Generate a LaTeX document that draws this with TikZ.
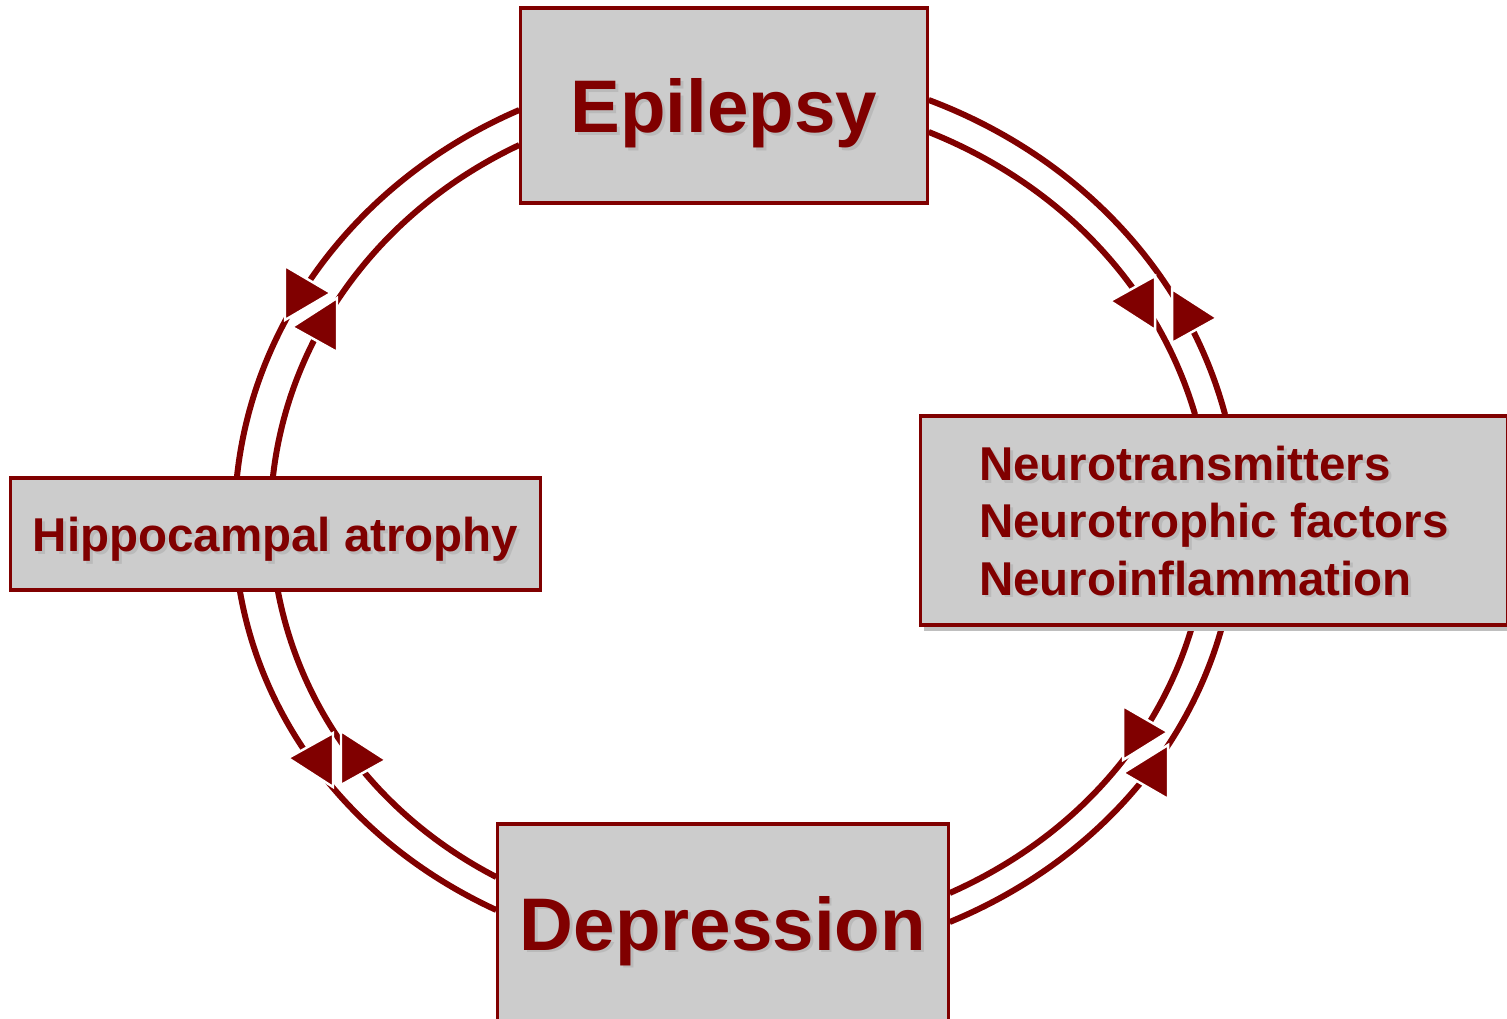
\documentclass[tikz,border=0pt]{standalone}
\usepackage{fontspec}
\setmainfont{Liberation Sans}
\usetikzlibrary{calc,backgrounds,shadows}
\definecolor{maroon}{HTML}{800000}
\definecolor{boxgrey}{HTML}{CCCCCC}
\definecolor{textshade}{HTML}{BABABA}
\newcommand{\shtext}[1]{\rlap{\textcolor{textshade}{\kern0.8pt\raisebox{-0.8pt}{#1}}}#1}
\tikzset{
  boxnode/.style={draw=maroon, fill=boxgrey, line width=0.9pt, inner sep=0pt, text=maroon, text depth=0pt},
  bigtext/.style={font=\fontsize{21.2}{25}\selectfont\bfseries},
  smalltext/.style={font=\fontsize{13.5}{16.3}\selectfont\bfseries},
  ringline/.style={draw=maroon, line width=1.7pt},
  headfill/.style={fill=maroon, draw=white, line width=0.7pt}
}

\begin{document}
\begin{tikzpicture}[x=0.01cm, y=-0.01cm]
  \useasboundingbox (0,0) rectangle (1507,1018);
  \node[boxnode, bigtext, minimum width=4.06cm, minimum height=1.95cm] (epi) at (724,105.5) {\shtext{Epilepsy}};
  \node[boxnode, smalltext, align=left, minimum width=5.87cm, minimum height=2.09cm,
        drop shadow={shadow xshift=0.04cm, shadow yshift=-0.06cm, fill=black!25, opacity=1}] (neuro) at (1214,520.5)
        {\shtext{Neurotransmitters}\\\shtext{Neurotrophic factors}\\\shtext{Neuroinflammation}};
  \node[boxnode, smalltext, minimum width=5.29cm, minimum height=1.12cm] (hippo) at (275.5,534) {\shtext{Hippocampal atrophy}};
  \node[boxnode, bigtext, minimum width=4.50cm, minimum height=1.98cm] (dep) at (723,923) {\shtext{Depression}};

  \begin{scope}[on background layer]
    % outer and inner ring, one quarter at a time
    \draw[ringline] (epi.east |- 0,100) .. controls +(149,56) and +(-38,-142) .. (neuro.north -| 1225,0);
    \draw[ringline] (epi.east |- 0,132) .. controls +(133,53) and +(-37,-126) .. (neuro.north -| 1195,0);
    \draw[ringline] (epi.west |- 0,110) .. controls +(-158,68) and +(17,-159) .. (hippo.north -| 237,0);
    \draw[ringline] (epi.west |- 0,145) .. controls +(-138,65) and +(16,-142) .. (hippo.north -| 273,0);
    \draw[ringline] (hippo.south -| 240,0) .. controls +(24,137) and +(-139,-64) .. (dep.west |- 0,910);
    \draw[ringline] (hippo.south -| 278,0) .. controls +(23,120) and +(-118,-61) .. (dep.west |- 0,877);
    \draw[ringline] (neuro.south -| 1192,0) .. controls +(-34,116) and +(122,-54) .. (dep.east |- 0,893);
    \draw[ringline] (neuro.south -| 1222,0) .. controls +(-36,130) and +(138,-57) .. (dep.east |- 0,922);
    % arrow heads
    \foreach \ax/\ay/\bx/\by in {1110/301/1155/303, 1217/318/1172/316, 331/293/285/293, 292/327/337/325,
                                 288/758/333/760, 386/760/341/758, 1168/732/1123/733, 1123/773/1168/772}
      \fill[headfill] (\ax,\ay) -- (\bx,\by-27) -- (\bx,\by+27) -- cycle;
  \end{scope}
\end{tikzpicture}
\end{document}
